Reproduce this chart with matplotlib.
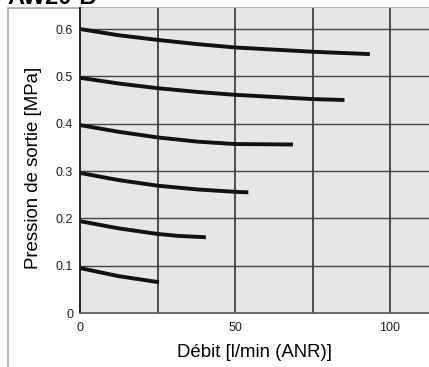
import matplotlib.pyplot as plt
from matplotlib.patches import Rectangle

plt.rcParams['font.family'] = ['Liberation Sans', 'DejaVu Sans']

# flow [l/min (ANR)] vs outlet pressure [MPa], one curve per set pressure
flow_06 = [0, 12.3, 25, 38, 50, 75, 93.5]
pres_06 = [0.600, 0.587, 0.577, 0.568, 0.561, 0.552, 0.547]
flow_05 = [0, 12.3, 25, 38, 50, 75, 85.3]
pres_05 = [0.497, 0.485, 0.475, 0.467, 0.461, 0.452, 0.450]
flow_04 = [0, 12.3, 25, 38, 50, 68.7]
pres_04 = [0.397, 0.383, 0.371, 0.362, 0.357, 0.356]
flow_03 = [0, 12.3, 25, 38, 50, 54.3]
pres_03 = [0.296, 0.281, 0.269, 0.261, 0.256, 0.255]
flow_02 = [0, 12.3, 25, 31.6, 40.6]
pres_02 = [0.194, 0.179, 0.167, 0.163, 0.160]
flow_01 = [0, 12.3, 25.5]
pres_01 = [0.095, 0.078, 0.065]

curves = [(flow_06, pres_06), (flow_05, pres_05), (flow_04, pres_04),
          (flow_03, pres_03), (flow_02, pres_02), (flow_01, pres_01)]

x_ticks = [0, 50, 100]
x_grid = [25, 50, 75, 100]
y_ticks = [0, 0.1, 0.2, 0.3, 0.4, 0.5, 0.6]
y_labels = ['0', '0.1', '0.2', '0.3', '0.4', '0.5', '0.6']

W, H = 429, 367
fig = plt.figure(figsize=(W / 100, H / 100), dpi=100)

# outer frame of the catalogue figure
fig.patches.append(Rectangle((8 / W, -0.01), 1.0, 1 - 8 / H + 0.01, transform=fig.transFigure,
                             facecolor='white', edgecolor='#aaaaaa', lw=1.2, zorder=-1))
# heading cut by the crop, only its bottom shows
fig.text(7 / W, 1 - 4 / H, 'AW20-B', fontsize=17, fontweight='bold', va='baseline', ha='left')

ax = fig.add_axes([80 / W, (H - 313) / H, (W - 80) / W, (313 - 8) / H])
ax.set_zorder(1)
ax.set_facecolor('#e6e6e6')
ax.set_xlim(0, (W - 80) / 3.1)
ax.set_ylim(0, (313 - 8) / 473.3)

for xg in x_grid:
    ax.axvline(xg, color='#222222', lw=1.1, zorder=1)
for yg in y_ticks[1:]:
    ax.axhline(yg, color='#444444', lw=1.0, zorder=1)

for fx, py in curves:
    ax.plot(fx, py, color='#111111', lw=2.8, solid_capstyle='butt',
            solid_joinstyle='round', zorder=3)

for s in ['top', 'right']:
    ax.spines[s].set_visible(False)
ax.spines['left'].set_color('#222222')
ax.spines['left'].set_linewidth(1.4)
ax.spines['bottom'].set_color('#555555')
ax.spines['bottom'].set_linewidth(1.2)

ax.set_xticks(x_ticks)
ax.set_xticklabels([str(v) for v in x_ticks])
ax.set_yticks(y_ticks)
ax.set_yticklabels(y_labels)
ax.tick_params(length=0, labelsize=9, colors='#222222')
ax.tick_params(axis='y', pad=5)
ax.tick_params(axis='x', pad=6.5)

ax.set_xlabel('Débit [l/min (ANR)]', fontsize=13.4, labelpad=7.5)
ax.set_ylabel('Pression de sortie [MPa]', fontsize=13.4)
ax.yaxis.set_label_coords(-0.109, 0.475)

fig.savefig('out.png', dpi=100)
